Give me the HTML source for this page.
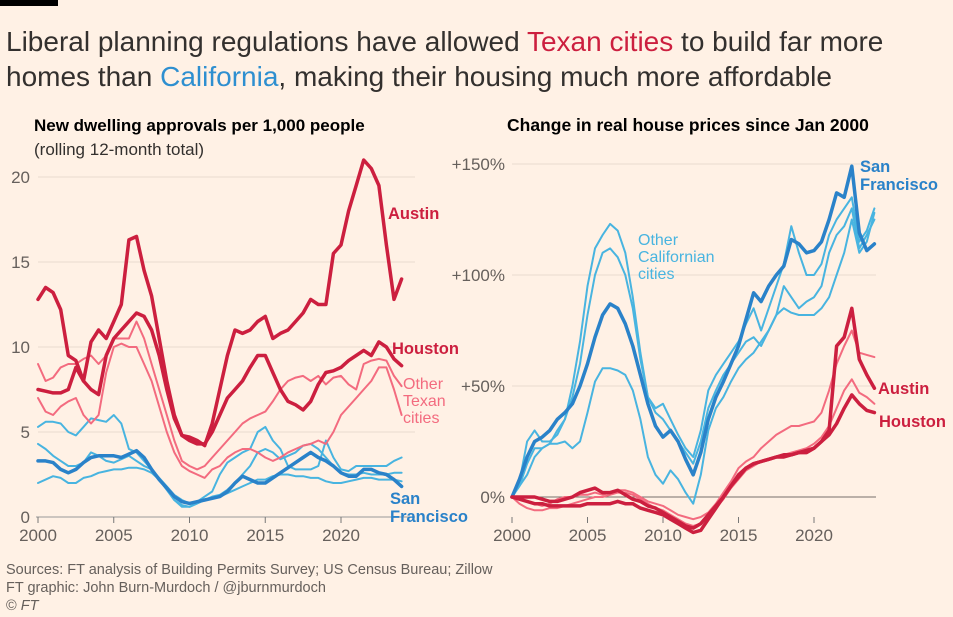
<!DOCTYPE html>
<html><head><meta charset="utf-8">
<style>
body{margin:0;background:#fff1e5;width:953px;height:617px;overflow:hidden;font-family:"Liberation Sans",sans-serif;color:#33302e}
#bar{position:absolute;left:0;top:0;width:58px;height:6px;background:#000}
.t{position:absolute;left:6px;font-size:28px;line-height:35px;color:#33302e;white-space:nowrap}
.src{position:absolute;left:6px;font-size:14.5px;color:#66605c;line-height:18px;white-space:nowrap}
svg{position:absolute;left:0;top:0}
</style></head><body>
<div id="bar"></div>
<div class="t" style="top:24px">Liberal planning regulations have allowed <span style="color:#cc1f3f">Texan cities</span> to build far more</div>
<div class="t" style="top:59px">homes than <span style="color:#2e8fd0">California</span>, making their housing much more affordable</div>
<div class="src" style="top:561px">Sources: FT analysis of Building Permits Survey; US Census Bureau; Zillow<br>FT graphic: John Burn-Murdoch / @jburnmurdoch<br>© <i>FT</i></div>
<svg id="s" width="953" height="617"></svg>
<script>
const years=[];for(let y=2000;y<=2024.001;y+=0.5)years.push(y);
const xTicks=[2000,2005,2010,2015,2020];
const leftTicks=[0,5,10,15,20];
const rightTicks=[0,50,100,150];
const rightTickLabels=["0%","+50%","+100%","+150%"];
const austinPermits=[12.8,13.5,13.2,12.2,9.5,9.2,8.0,10.3,11.0,10.5,11.5,12.5,16.3,16.5,14.5,13.0,10.5,8.0,6.0,4.8,4.7,4.5,4.2,5.5,7.5,9.5,11.0,10.8,11.0,11.5,11.8,10.5,10.8,11.0,11.5,12.0,12.8,12.5,12.5,15.5,16.0,18.0,19.5,21.0,20.5,19.5,16.0,12.8,14.0];
const houstonPermits=[7.5,7.4,7.3,7.3,7.5,8.8,8.0,7.5,7.2,9.5,10.5,11.0,11.5,12.0,11.8,11.0,9.5,7.5,5.8,4.8,4.5,4.3,4.3,5.0,6.0,7.0,7.5,8.0,8.8,9.5,9.5,8.5,7.5,6.8,6.6,6.3,6.8,7.8,8.5,8.6,8.8,9.2,9.5,9.8,9.5,10.3,10.0,9.3,8.9];
const otherTexPermitsA=[9.0,8.0,8.2,8.8,9.0,9.0,9.3,9.5,9.0,9.5,10.5,10.5,10.5,11.5,10.5,9.0,7.5,6.0,4.5,3.3,3.0,2.8,3.0,3.5,4.0,4.5,5.0,5.5,5.8,6.0,6.2,6.8,7.5,8.0,8.2,8.3,8.0,8.3,7.8,8.2,8.3,7.8,7.5,9.0,9.2,9.3,9.2,8.3,7.7];
const otherTexPermitsB=[7.0,6.2,6.0,6.5,6.8,7.0,6.0,5.5,6.0,8.5,10.0,10.2,10.0,10.0,9.0,8.0,6.5,5.0,3.8,3.0,2.7,2.5,2.3,2.8,3.0,3.5,3.8,4.0,4.0,3.8,3.5,3.3,3.5,3.8,4.0,4.2,4.3,4.5,4.3,5.0,6.0,6.5,7.0,7.5,8.0,8.8,8.8,7.5,6.0];
const sfPermits=[3.3,3.3,3.2,2.8,2.6,2.8,3.2,3.5,3.6,3.6,3.6,3.5,3.7,3.9,3.5,2.8,2.2,1.7,1.2,0.9,0.8,0.9,1.0,1.1,1.2,1.5,2.0,2.4,2.2,2.0,2.0,2.3,2.6,2.9,3.2,3.5,3.8,3.5,3.3,3.0,2.6,2.4,2.4,2.8,2.8,2.6,2.5,2.2,1.8];
const otherCaPermitsA=[5.3,5.6,5.6,5.5,5.0,4.8,5.3,5.8,5.7,5.6,6.0,5.5,4.0,3.8,3.3,2.8,2.3,1.8,1.3,1.0,0.8,0.9,1.2,1.5,2.5,3.2,3.5,3.8,4.0,5.0,5.3,4.5,4.0,3.0,2.8,2.8,2.8,3.0,4.5,3.5,2.8,2.7,3.0,3.0,3.0,3.0,3.0,3.3,3.5];
const otherCaPermitsB=[4.3,4.0,3.6,3.3,3.0,3.0,3.2,3.8,3.6,3.3,3.2,3.4,3.6,3.3,3.0,2.8,2.2,1.6,1.0,0.7,0.6,0.8,1.0,1.2,1.3,1.6,2.0,2.5,3.0,3.8,4.0,3.8,3.4,3.6,3.8,4.2,4.3,4.0,3.5,3.0,2.6,2.5,2.5,2.6,2.5,2.5,2.5,2.6,2.6];
const otherCaPermitsC=[2.0,2.2,2.4,2.3,2.0,2.0,2.3,2.4,2.6,2.7,2.8,2.8,2.9,2.9,2.8,2.6,2.2,1.6,1.0,0.6,0.6,0.8,1.0,1.1,1.2,1.4,1.6,1.8,2.0,2.2,2.2,2.4,2.5,2.5,2.4,2.4,2.3,2.3,2.1,2.0,2.0,2.1,2.2,2.3,2.3,2.2,2.2,2.2,2.1];
const sfPrices=[0,8,18,25,27,30,35,38,42,50,60,72,82,87,85,78,68,55,42,32,27,30,25,17,10,20,35,45,52,60,68,80,92,88,95,100,104,116,114,110,111,115,125,137,135,149,119,111,114];
const otherCaPricesA=[0,7,25,30,25,25,28,35,50,70,95,112,118,123,120,110,90,65,45,40,42,35,28,22,18,30,48,55,60,65,70,78,85,75,85,95,105,122,110,100,100,105,118,125,130,135,115,120,130];
const otherCaPricesB=[0,5,15,22,22,24,30,35,45,60,82,100,110,112,108,100,85,62,45,38,35,30,25,20,15,25,40,48,55,60,65,70,72,68,75,82,95,90,85,88,90,95,110,118,122,130,112,118,125];
const otherCaPricesC=[0,5,10,18,22,24,24,25,22,25,38,52,58,58,57,55,48,35,18,10,6,12,8,2,-3,10,30,40,45,52,58,62,65,70,75,82,85,83,82,82,82,85,90,100,110,125,110,115,128];
const austinPrices=[0,0,0,0,-1,-2,-2,-1,0,2,3,4,2,2,3,1,-1,-2,-4,-5,-7,-9,-11,-13,-14,-12,-8,-4,0,5,10,13,15,16,17,18,19,19,20,21,22,25,30,68,72,85,62,55,49];
const houstonPrices=[0,-1,-2,-3,-3,-4,-4,-4,-4,-4,-3,-3,-3,-3,-2,-3,-3,-5,-6,-7,-8,-10,-12,-14,-16,-15,-10,-5,0,5,9,13,15,16,17,18,18,19,20,20,22,25,28,33,40,46,42,39,38];
const otherTexPricesA=[0,-1,-2,-3,-4,-3,-1,0,0,1,1,2,1,2,3,3,2,0,-2,-3,-4,-6,-8,-9,-10,-9,-7,-3,2,7,13,16,18,22,25,28,30,32,32,33,34,38,48,60,68,75,65,64,63];
const otherTexPricesB=[0,-3,-5,-6,-6,-5,-5,-4,-3,-2,-1,0,0,1,2,2,1,-1,-3,-5,-6,-8,-10,-12,-13,-12,-9,-5,-1,4,8,12,14,16,17,18,19,20,21,22,24,27,32,40,48,53,47,45,42];

const NS="http://www.w3.org/2000/svg",svg=document.getElementById('s');
function mk(t,a,txt){const e=document.createElementNS(NS,t);for(const k in a)e.setAttribute(k,a[k]);if(txt!==undefined)e.textContent=txt;svg.appendChild(e);return e;}
const lx=y=>38+(y-2000)*15.15, ly=v=>517-v*17;
const rx=y=>512+(y-2000)*15.1, ry=v=>497-v*2.22;
const RED="#cc1f3f",LRED="#f36b7f",BLUE="#2a82c9",LBLUE="#48b4e0",GRID="#e9dccf",TXT="#66605c";
let e=mk('text',{x:34,y:131,'font-size':17,'font-weight':'bold',fill:'#000'},'New dwelling approvals per 1,000 people');

e=mk('text',{x:34,y:155,'font-size':17,fill:'#33302e'},'(rolling 12-month total)');

e=mk('text',{x:507,y:131,'font-size':17.5,'font-weight':'bold',fill:'#000'},'Change in real house prices since Jan 2000');

leftTicks.forEach(v=>{
 if(v>0){const g=mk('line',{x1:38,x2:415,y1:ly(v),y2:ly(v),stroke:GRID,'stroke-width':1});}
 const t=mk('text',{x:30,y:ly(v)+6,'font-size':17,fill:TXT,'text-anchor':'end'},String(v));
 
});
e=mk('line',{x1:36,x2:415,y1:517,y2:517,stroke:'#999',"stroke-width":1});

xTicks.forEach(y=>{
 const k=mk('line',{x1:lx(y),x2:lx(y),y1:517,y2:523,stroke:'#777'});
 const t=mk('text',{x:lx(y),y:541,'font-size':17,fill:TXT,'text-anchor':'middle'},String(y));
 
});
rightTicks.forEach((v,i)=>{
 const g=mk('line',{x1:512,x2:876,y1:ry(v),y2:ry(v),stroke:v===0?'#77706b':GRID,'stroke-width':1});
 
 const t=mk('text',{x:505,y:ry(v)+6,'font-size':17,fill:TXT,'text-anchor':'end'},rightTickLabels[i]);
 
});
xTicks.forEach(y=>{
 const k=mk('line',{x1:rx(y),x2:rx(y),y1:517,y2:523,stroke:'#777'});
 const t=mk('text',{x:rx(y),y:541,'font-size':17,fill:TXT,'text-anchor':'middle'},String(y));
 
});
function line(data,X,Y,col,w,name){
 const d=data.map((v,i)=>(i?'L':'M')+X(years[i]).toFixed(1)+','+Y(v).toFixed(1)).join('');
 const p=mk('path',{d:d,fill:'none',stroke:col,'stroke-width':w,'stroke-linejoin':'round','stroke-linecap':'round'});
 
}
line(otherCaPermitsA,lx,ly,LBLUE,2,'line-other-ca-permits-a');
line(otherCaPermitsB,lx,ly,LBLUE,2,'line-other-ca-permits-b');
line(otherCaPermitsC,lx,ly,LBLUE,2,'line-other-ca-permits-c');
line(sfPermits,lx,ly,BLUE,3.5,'line-sf-permits');
line(otherTexPermitsA,lx,ly,LRED,2,'line-other-tex-permits-a');
line(otherTexPermitsB,lx,ly,LRED,2,'line-other-tex-permits-b');
line(houstonPermits,lx,ly,RED,3.5,'line-houston-permits');
line(austinPermits,lx,ly,RED,3.5,'line-austin-permits');
line(otherCaPricesA,rx,ry,LBLUE,2,'line-other-ca-prices-a');
line(otherCaPricesB,rx,ry,LBLUE,2,'line-other-ca-prices-b');
line(otherCaPricesC,rx,ry,LBLUE,2,'line-other-ca-prices-c');
line(sfPrices,rx,ry,BLUE,3.5,'line-sf-prices');
line(otherTexPricesA,rx,ry,LRED,2,'line-other-tex-prices-a');
line(otherTexPricesB,rx,ry,LRED,2,'line-other-tex-prices-b');
line(houstonPrices,rx,ry,RED,3.5,'line-houston-prices');
line(austinPrices,rx,ry,RED,3.5,'line-austin-prices');
function lab(x,y,lines,col,name){
 lines.forEach((s,i)=>{const t=mk('text',{x:x,y:y+i*18,'font-size':16.5,'font-weight':'bold',fill:col},s);
 });
}
lab(388,219,['Austin'],RED,'label-austin-left');
lab(392,354,['Houston'],RED,'label-houston-left');
['Other','Texan','cities'].forEach((s,i)=>{const t=mk('text',{x:403,y:389+i*17,'font-size':16,fill:LRED},s);});
lab(390,504,['San','Francisco'],BLUE,'label-sf-left');
['Other','Californian','cities'].forEach((s,i)=>{const t=mk('text',{x:638,y:245+i*17,'font-size':16,fill:LBLUE},s);});
lab(860,172,['San','Francisco'],BLUE,'label-sf-right');
lab(878,394,['Austin'],RED,'label-austin-right');
lab(879,427,['Houston'],RED,'label-houston-right');
</script>
</body></html>
